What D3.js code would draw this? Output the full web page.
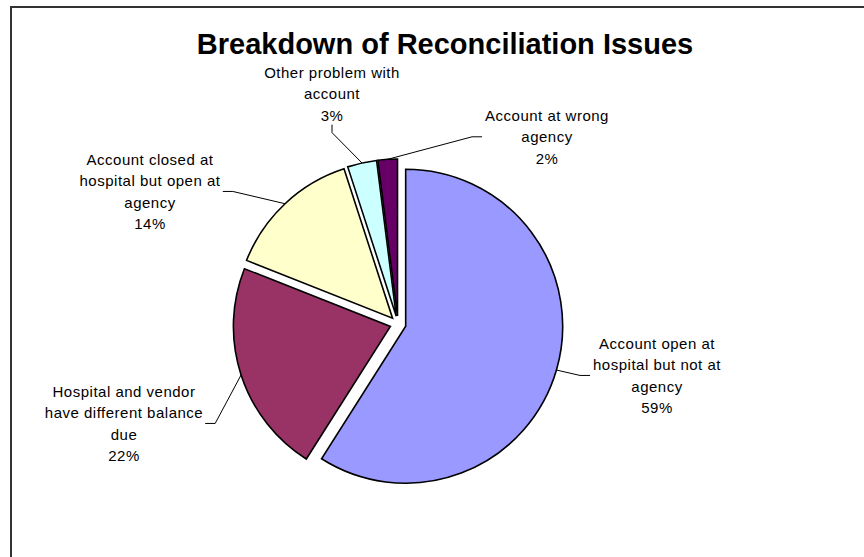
<!DOCTYPE html>
<html>
<head>
<meta charset="utf-8">
<script src="https://cdn.jsdelivr.net/npm/d3@7"></script>
<style>
  body { margin: 0; background: #fff; }
  svg { display: block; }
</style>
</head>
<body>
<div id="chart"></div>
<script>
// DATA
const categories = [
  "Account open at hospital but not at agency",
  "Hospital and vendor have different balance due",
  "Account closed at hospital but open at agency",
  "Other problem with account",
  "Account at wrong agency"
]
const values = [59, 22, 14, 3, 2]
// how Excel wrapped each category name
const labelLines = [
  ["Account open at", "hospital but not at", "agency"],
  ["Hospital and vendor", "have different balance", "due"],
  ["Account closed at", "hospital but open at", "agency"],
  ["Other problem with", "account"],
  ["Account at wrong", "agency"]
]
const colors = ["#9999FF", "#993366", "#FFFFCC", "#CCFFFF", "#660066"]

// LAYOUT
const width = 864, height = 557
const R = 157, explode = 8
const cx = 398, cy = 324
// label centre x, first baseline y, side the leader leaves from
const labelPos = [
  [657, 349, "left"],
  [124, 397, "right"],
  [150, 165, "right"],
  [332, 78, "bottom"],
  [547, 121, "left"]
]
const lineH = 21.3

const svg = d3.select("#chart")
  .append("svg")
  .attr("width", width)
  .attr("height", height)

// chart border (cropped on right / bottom like the screenshot)
svg.append("rect")
  .attr("x", 11).attr("y", 7)
  .attr("width", 900).attr("height", 600)
  .attr("fill", "none")
  .attr("stroke", "#333")
  .attr("stroke-width", 2)

svg.append("text")
  .attr("x", 445).attr("y", 54)
  .attr("text-anchor", "middle")
  .attr("font-family", "'Liberation Sans', Arial, sans-serif")
  .attr("font-weight", "bold")
  .attr("font-size", 29)
  .text("Breakdown of Reconciliation Issues")

// PIE
const pie = d3.pie().sort(null).value(d => d)
const arcs = pie(values)
const arc = d3.arc().innerRadius(0).outerRadius(R)
const rim = d3.arc().innerRadius(R).outerRadius(R)

const shift = d => {
  const a = (d.startAngle + d.endAngle) / 2
  return [explode * Math.sin(a), -explode * Math.cos(a)]
}

const g = svg.append("g").attr("transform", `translate(${cx}, ${cy})`)

g.selectAll("path.slice")
  .data(arcs)
  .join("path")
    .attr("class", "slice")
    .attr("d", arc)
    .attr("transform", d => `translate(${shift(d)})`)
    .attr("fill", (d, i) => colors[i])
    .attr("stroke", "#000")
    .attr("stroke-width", 1.6)
    .attr("stroke-linejoin", "miter")

// LABELS
const labels = svg.selectAll("text.lbl")
  .data(arcs)
  .join("text")
    .attr("class", "lbl")
    .attr("text-anchor", "middle")
    .attr("font-family", "'Liberation Sans', Arial, sans-serif")
    .attr("font-size", 15)
    .attr("letter-spacing", 0.5)
    .attr("fill", "#000")

labels.each(function(d, i) {
  const t = d3.select(this)
  const lines = labelLines[i].concat([values[i] + "%"])
  lines.forEach((s, k) => {
    t.append("tspan")
      .attr("x", labelPos[i][0])
      .attr("y", labelPos[i][1] + k * lineH)
      .text(s)
  })
})

// LEADER LINES
labels.each(function(d, i) {
  const b = this.getBBox()
  const side = labelPos[i][2]
  const s = shift(d)
  const c = rim.centroid(d)
  const end = [cx + s[0] + c[0], cy + s[1] + c[1]]
  let start, elbow
  if (side === "left") {
    start = [b.x - 3, b.y + b.height / 2]
    elbow = [start[0] - 10, start[1]]
  } else if (side === "right") {
    start = [b.x + b.width + 2, b.y + b.height / 2]
    elbow = [start[0] + 10, start[1]]
  } else {
    start = [b.x + b.width / 2, b.y + b.height + 1]
    elbow = [start[0], start[1] + 8]
  }
  svg.append("path")
    .attr("d", d3.line()([start, elbow, end]))
    .attr("fill", "none")
    .attr("stroke", "#000")
    .attr("stroke-width", 1)
})
</script>
</body>
</html>
